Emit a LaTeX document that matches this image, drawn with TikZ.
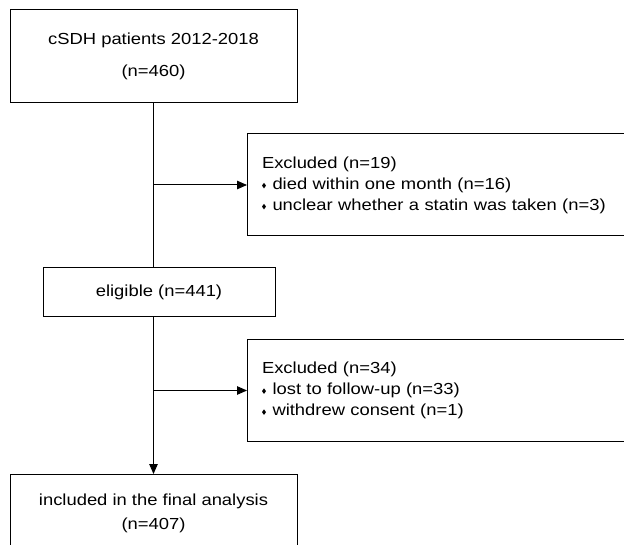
\documentclass[tikz,border=0pt]{standalone}
\usepackage{fontspec}
\setmainfont{Liberation Sans}[FakeStretch=1.15]
\usetikzlibrary{arrows.meta}
\newcommand{\dmd}{\tikz[baseline=0pt]\fill (0pt,3.5pt) -- (2pt,6.3pt) -- (4pt,3.5pt) -- (2pt,0.7pt) -- cycle;\hspace{6.5pt}}
\tikzset{
  >={Triangle[length=10pt,width=8.5pt]},
}
\tikzstyle{box}=[draw,line width=1pt,inner sep=0pt,align=center]
\tikzstyle{exbox}=[draw,line width=1pt,inner xsep=14.5pt,inner ysep=0pt,text width=400pt,align=left,anchor=west,minimum height=102pt]
\tikzstyle{line}=[line width=1pt]
\tikzstyle{every node}=[font=\fontsize{16}{21}\selectfont]

\begin{document}
\begin{tikzpicture}[x=1pt,y=-1pt]
    \useasboundingbox (0,0) rectangle (624,545);
    \clip (0,0) rectangle (624,545);

    \node[box,minimum width=287pt,minimum height=93pt] (src) at (153.5,56.5)
      {cSDH patients 2012-2018\\[11pt](n=460)};
    \node[exbox] (exc1) at (247,185)
      {Excluded (n=19)\\
       \dmd died within one month (n=16)\\
       \dmd unclear whether a statin was taken (n=3)};
    \node[box,minimum width=232pt,minimum height=49pt] (elig) at (159,292.5)
      {eligible (n=441)};
    \node[exbox] (exc2) at (247,390.5)
      {Excluded (n=34)\\
       \dmd lost to follow-up (n=33)\\
       \dmd withdrew consent (n=1)};
    \node[box,minimum width=287pt,minimum height=77pt,anchor=north] (fin) at (153.5,474)
      {included in the final analysis\\[3pt](n=407)};

    % flow
    \coordinate (j1) at (src.south |- exc1.west);
    \coordinate (j2) at (src.south |- exc2.west);
    \draw[line] (src.south) -- (src.south |- elig.north);
    \draw[line,->] (j1) -- (exc1.west);
    \draw[line,->] (src.south |- elig.south) -- (fin.north);
    \draw[line,->] (j2) -- (exc2.west);
\end{tikzpicture}
\end{document}
